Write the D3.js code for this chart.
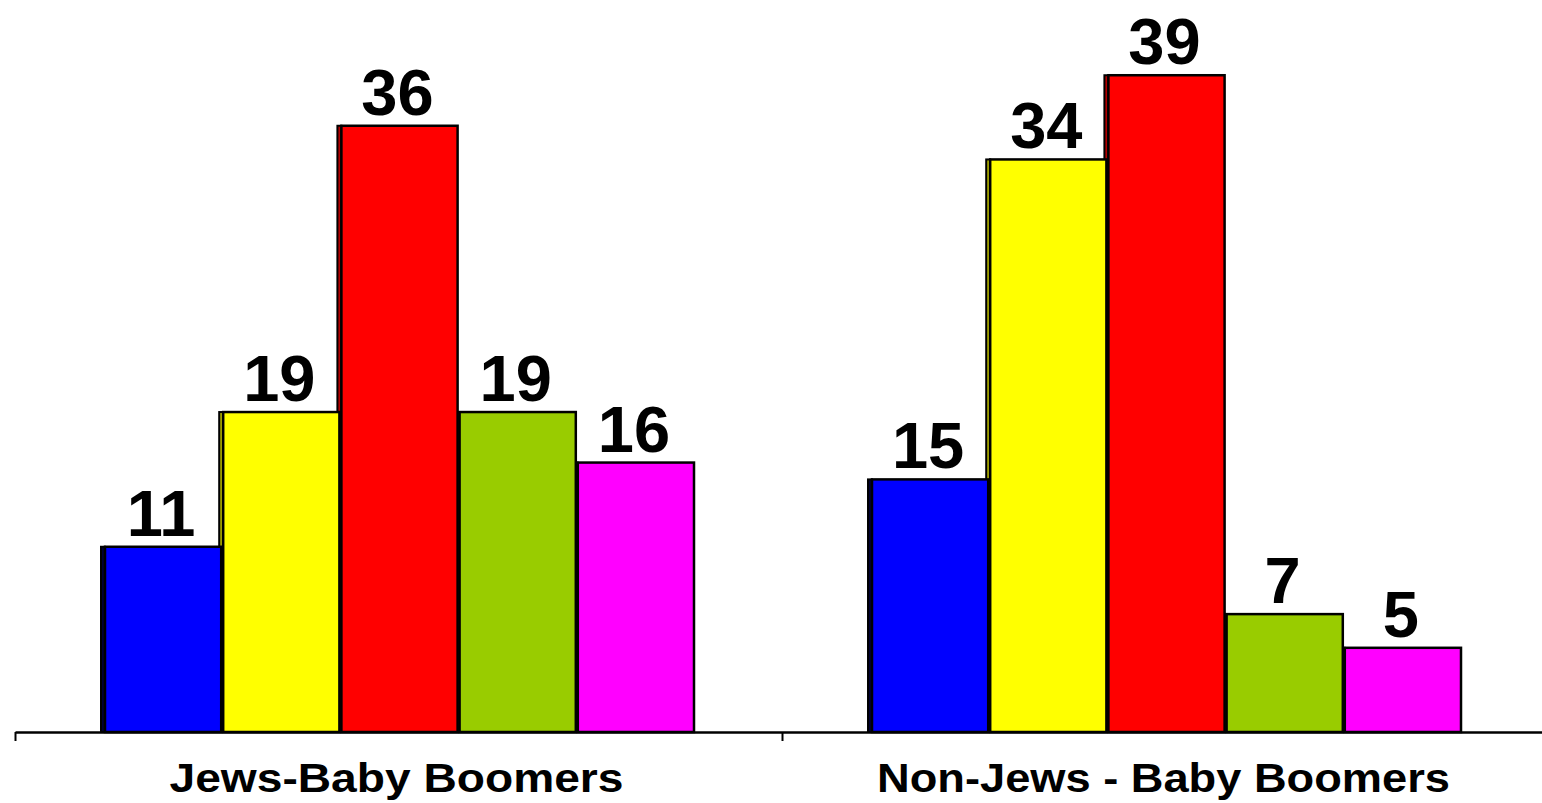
<!DOCTYPE html>
<html>
<head>
<meta charset="utf-8">
<script src="https://cdn.jsdelivr.net/npm/d3@7"></script>
<style>
  body { margin: 0; background: #fff; }
  svg { display: block; }
</style>
</head>
<body>
<script>
const width = 1542;
const height = 803;

// data
const groups = ["Jews-Baby Boomers", "Non-Jews - Baby Boomers"];
const series = ["s1", "s2", "s3", "s4", "s5"];
const jewsValues = [11, 19, 36, 19, 16];
const nonJewsValues = [15, 34, 39, 7, 5];
const colors = ["#0000ff", "#ffff00", "#ff0000", "#99cc00", "#ff00ff"];
const sideColors = ["#000033", "#a6a600", "#b30000", "#5c7a00", "#990099"];

const allValues = [jewsValues, nonJewsValues];

const x0 = d3.scaleBand()
  .domain(groups)
  .range([15, 1549])
  .paddingInner(0)
  .paddingOuter(0);

const x1 = d3.scaleBand()
  .domain(series)
  .range([87, x0.bandwidth() - 89]);

const y = d3.scaleLinear()
  .domain([0, 40])
  .range([732, 732 - 40 * 16.84]);

const svg = d3.select("body")
  .append("svg")
  .attr("width", width)
  .attr("height", height);

const rows = [];
groups.forEach((g, gi) => {
  series.forEach((s, si) => {
    rows.push({ group: g, series: s, i: si, value: allValues[gi][si] });
  });
});

const bw = x1.bandwidth();
const side = 4;

// depth strips (drawn behind the faces)
svg.append("g")
  .selectAll("rect")
  .data(rows)
  .enter()
  .append("rect")
  .attr("x", d => x0(d.group) + x1(d.series) - 1)
  .attr("y", d => y(d.value))
  .attr("width", side)
  .attr("height", d => y(0) - y(d.value))
  .attr("fill", d => sideColors[d.i])
  .attr("stroke", "#000")
  .attr("stroke-width", 2);

// bar faces
svg.append("g")
  .selectAll("rect")
  .data(rows)
  .enter()
  .append("rect")
  .attr("x", d => x0(d.group) + x1(d.series) + side - 1)
  .attr("y", d => y(d.value))
  .attr("width", bw - side + 2)
  .attr("height", d => y(0) - y(d.value))
  .attr("fill", d => colors[d.i])
  .attr("stroke", "#000")
  .attr("stroke-width", 2.5);

// axis with ticks on the group boundaries
const tickScale = d3.scaleLinear().domain([0, 2]).range(x0.range());
svg.append("g")
  .attr("transform", `translate(0, ${y(0)})`)
  .call(d3.axisBottom(tickScale).tickValues([0, 1, 2]).tickFormat("").tickSizeInner(9).tickSizeOuter(0))
  .call(g => g.select(".domain").attr("stroke", "#000").attr("stroke-width", 2.5))
  .call(g => g.selectAll(".tick line").attr("stroke", "#000").attr("stroke-width", 2));

// value labels
svg.append("g")
  .selectAll("text")
  .data(rows)
  .enter()
  .append("text")
  .attr("x", d => x0(d.group) + x1(d.series) + bw / 2)
  .attr("y", d => y(d.value) - 11)
  .attr("text-anchor", "middle")
  .attr("font-family", "Liberation Sans, Arial, sans-serif")
  .attr("font-weight", "bold")
  .attr("font-size", 65)
  .attr("fill", "#000")
  .text(d => d.value);

// group labels
const labelWidths = [454, 573];
svg.append("g")
  .selectAll("text")
  .data(groups)
  .enter()
  .append("text")
  .attr("x", d => x0(d) + x0.bandwidth() / 2 - 2)
  .attr("y", 792)
  .attr("text-anchor", "middle")
  .attr("font-family", "Liberation Sans, Arial, sans-serif")
  .attr("font-weight", "bold")
  .attr("font-size", 41)
  .attr("textLength", (d, i) => labelWidths[i])
  .attr("lengthAdjust", "spacingAndGlyphs")
  .attr("fill", "#000")
  .text(d => d);
</script>
</body>
</html>
